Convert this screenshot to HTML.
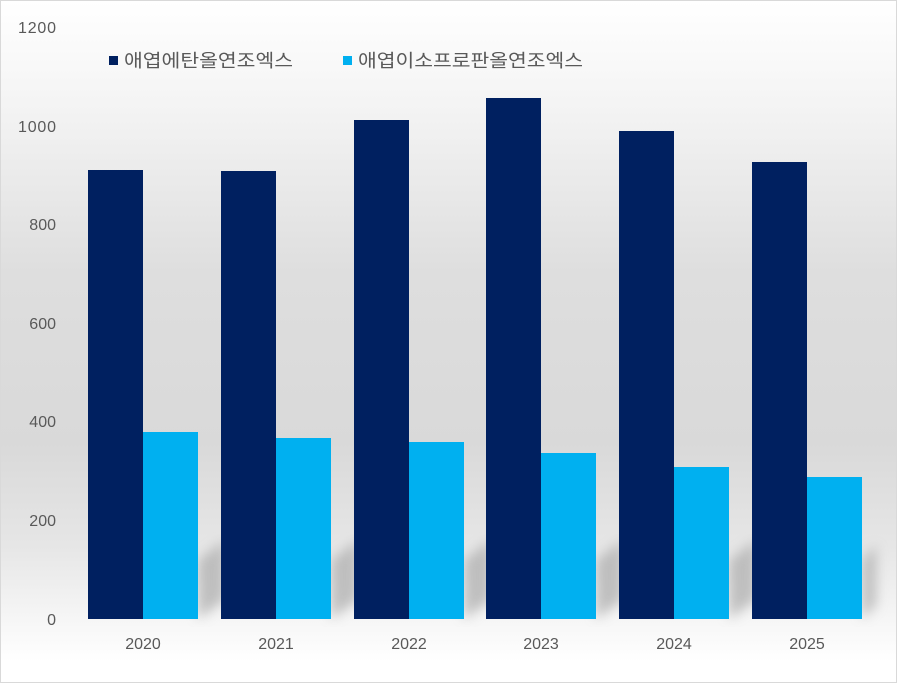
<!DOCTYPE html>
<html><head><meta charset="utf-8"><style>
html,body{margin:0;padding:0}
body{width:897px;height:683px;overflow:hidden;font-family:"Liberation Sans","Noto Sans CJK KR",sans-serif}
#c{position:absolute;left:0;top:0;width:895px;height:681px;border:1px solid #d9d9d9;
background:linear-gradient(to bottom,#ffffff 0%,#f4f4f4 15%,#dedede 40%,#d9d9d9 65%,#e6e6e6 80%,#ffffff 97%)}
</style></head><body><div id="c"></div>
<svg width="897" height="683" style="position:absolute;left:0;top:0" font-family="Liberation Sans, Noto Sans CJK KR, sans-serif">
<defs><filter id="b"><feGaussianBlur stdDeviation="6"/></filter></defs>
<g fill="#aaaaaa" opacity="0.7" filter="url(#b)">
<polygon points="198,619 198,560 225,540 225,600"/>
<polygon points="331,619 331,560 358,540 358,600"/>
<polygon points="464,619 464,560 491,540 491,600"/>
<polygon points="596,619 596,560 623,540 623,600"/>
<polygon points="729,619 729,560 756,540 756,600"/>
<polygon points="862,619 862,560 876,545 876,605"/>
</g>
<g fill="#595959" font-size="16" text-anchor="end">
<text x="56" y="625">0</text><text x="56" y="526">200</text><text x="56" y="427">400</text>
<text x="56" y="329">600</text><text x="56" y="230">800</text><text x="56" y="132" textLength="38">1000</text><text x="56" y="33" textLength="38">1200</text>
</g>
<g fill="#002060">
<rect x="88" y="170" width="55" height="449"/><rect x="221" y="171" width="55" height="448"/>
<rect x="354" y="120" width="55" height="499"/><rect x="486" y="98" width="55" height="521"/>
<rect x="619" y="131" width="55" height="488"/><rect x="752" y="162" width="55" height="457"/>
</g>
<g fill="#00b0f0">
<rect x="143" y="432" width="55" height="187"/><rect x="276" y="438" width="55" height="181"/>
<rect x="409" y="442" width="55" height="177"/><rect x="541" y="453" width="55" height="166"/>
<rect x="674" y="467" width="55" height="152"/><rect x="807" y="477" width="55" height="142"/>
</g>
<g fill="#595959" font-size="16" text-anchor="middle">
<text x="143" y="649">2020</text><text x="276" y="649">2021</text><text x="409" y="649">2022</text>
<text x="541" y="649">2023</text><text x="674" y="649">2024</text><text x="807" y="649">2025</text>
</g>
<rect x="109" y="56" width="9" height="9" fill="#002060"/>
<text x="124" y="67" font-size="18" fill="#595959" textLength="169" lengthAdjust="spacingAndGlyphs">애엽에탄올연조엑스</text>
<rect x="343" y="56" width="9" height="9" fill="#00b0f0"/>
<text x="358" y="67" font-size="18" fill="#595959" textLength="225" lengthAdjust="spacingAndGlyphs">애엽이소프로판올연조엑스</text>
</svg></body></html>
